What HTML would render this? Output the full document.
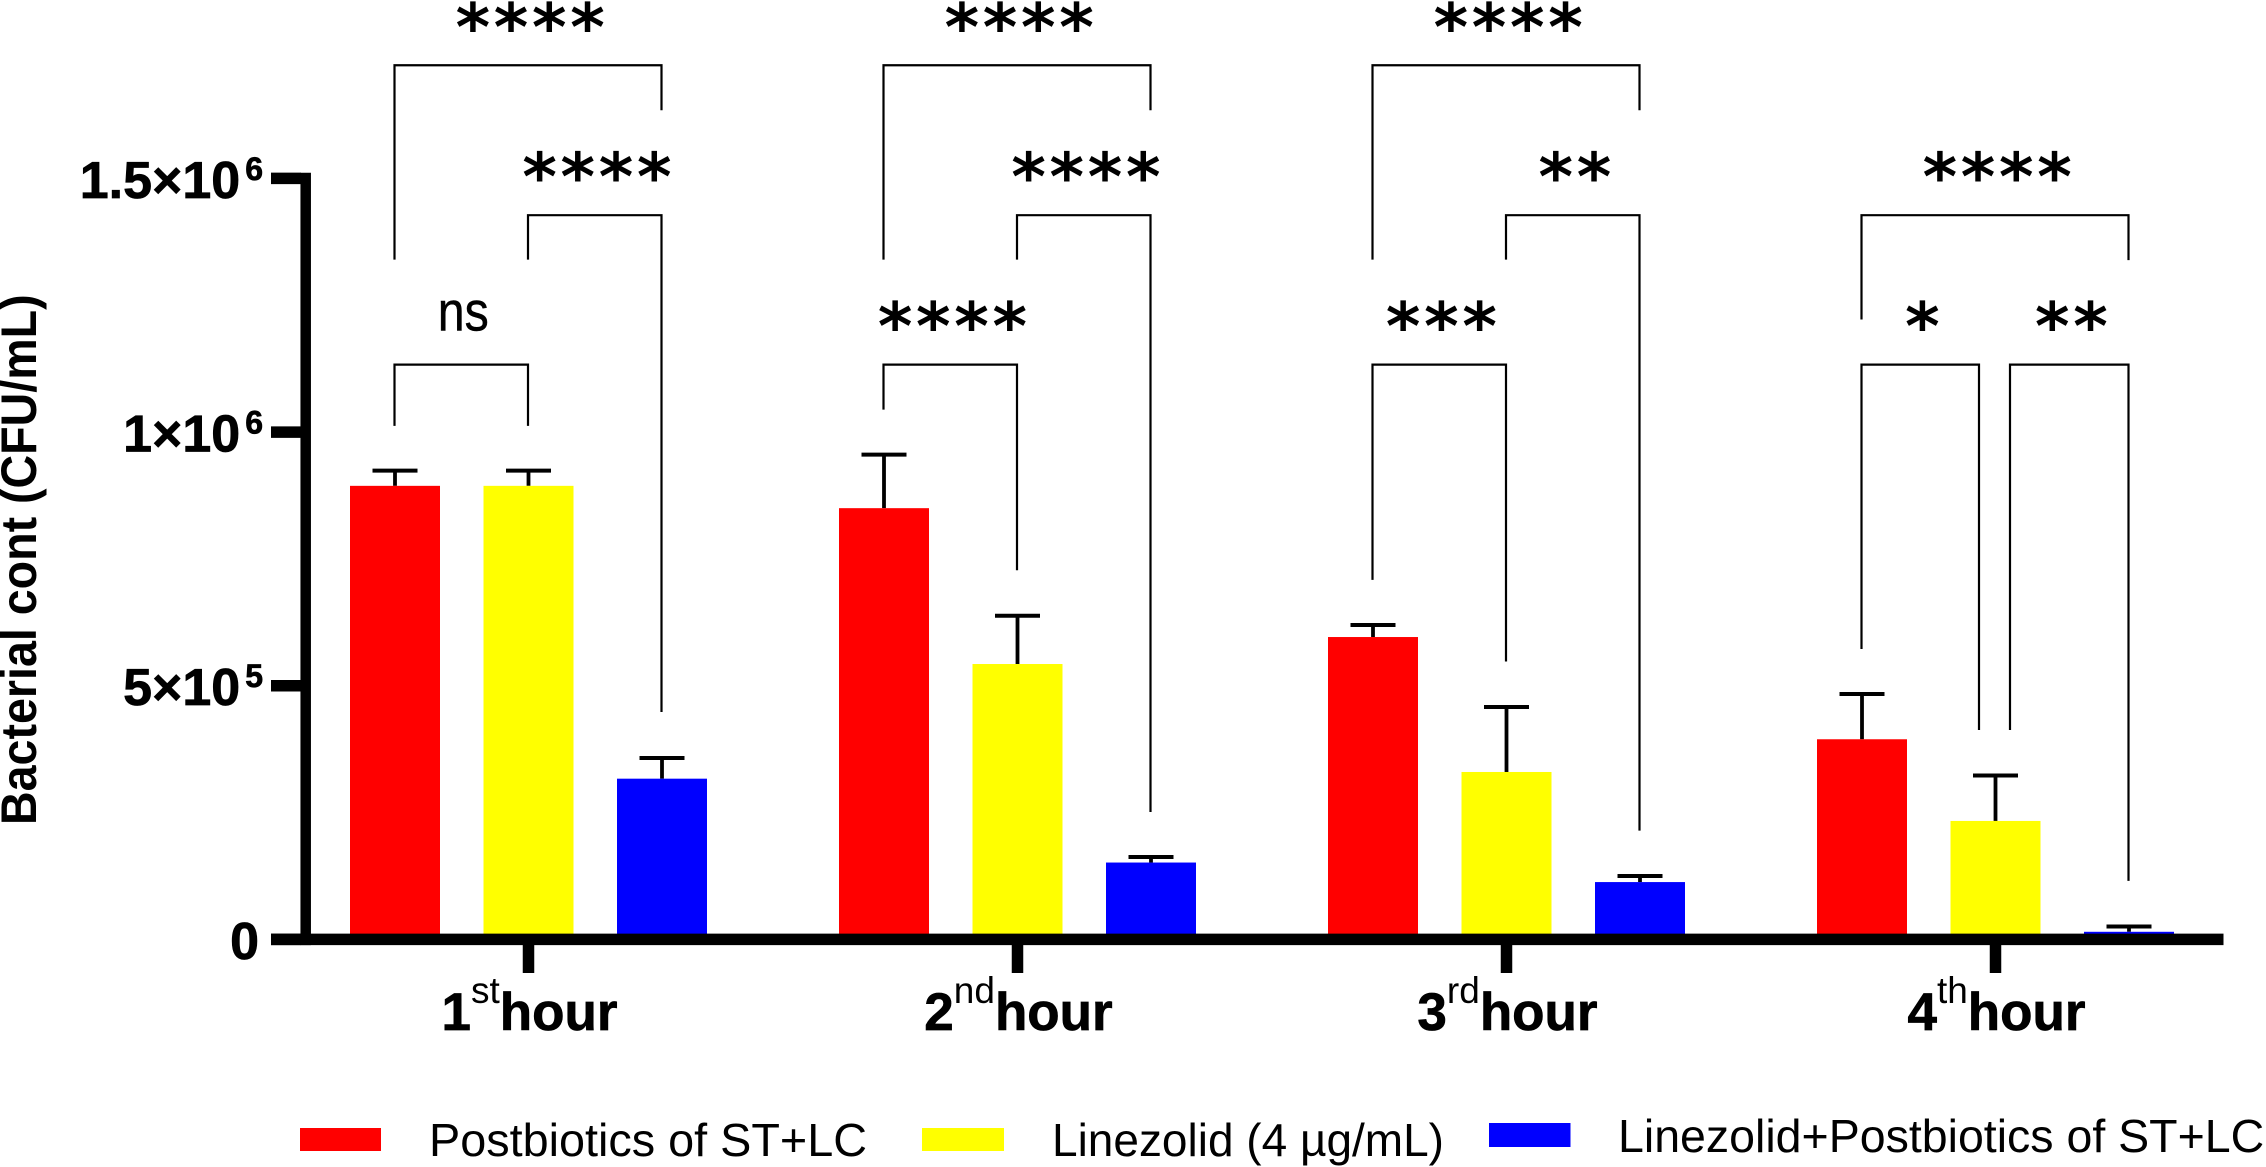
<!DOCTYPE html>
<html lang="en">
<head>
<meta charset="utf-8">
<title>Bacterial count by hour</title>
<style>
html,body{margin:0;padding:0;background:#fff;}
svg{display:block;}
text{font-family:"Liberation Sans",Arial,sans-serif;fill:#000;}
</style>
</head>
<body>
<svg id="chart" xmlns="http://www.w3.org/2000/svg" width="2266" height="1167" viewBox="0 0 2266 1167">
  <rect x="0" y="0" width="2266" height="1167" fill="#fff"/>
  <g id="brackets"></g>
  <g id="bars"></g>
  <g id="axes"></g>
  <text transform="translate(36,825) scale(1.08,1) rotate(-90)" font-size="46.6" font-weight="700">Bacterial cont (CFU/mL)</text>
  <g>
    <g>
      <rect x="300" y="1128" width="81" height="23" fill="#ff0000"/>
      <text x="429" y="1156" font-size="46.5" textLength="438" lengthAdjust="spacingAndGlyphs">Postbiotics of ST+LC</text>
    </g>
    <g>
      <rect x="922" y="1128" width="82" height="23" fill="#ffff00"/>
      <text x="1052" y="1156" font-size="46.5" textLength="392" lengthAdjust="spacingAndGlyphs">Linezolid (4 µg/mL)</text>
    </g>
    <g>
      <rect x="1489" y="1123" width="81.5" height="24" fill="#0000ff"/>
      <text x="1618" y="1152" font-size="46.5">Linezolid+Postbiotics of ST+LC</text>
    </g>
  </g>
</svg>
<script>
// ---- chart data (values in CFU/mL) ----
const categories = ['1', '2', '3', '4'];
const categorySuffixes = ['st', 'nd', 'rd', 'th'];
const seriesNames = ['postbiotics', 'linezolid', 'combination'];
const seriesColors = ['#ff0000', '#ffff00', '#0000ff'];
const postbioticsValues = [894000, 850000, 596000, 394500];
const linezolidValues = [894000, 542800, 330000, 233500];
const combinationValues = [316800, 151500, 113000, 15000];
const postbioticsUpper = [924000, 955600, 619700, 483700];
const linezolidUpper = [924000, 638000, 458000, 323000];
const combinationUpper = [357600, 162500, 125000, 25400];
const yTickValues = [0, 500000, 1000000, 1500000];
const yTickMantissas = ['0', '5×10', '1×10', '1.5×10'];
const yTickExponents = ['', '5', '6', '6'];
// comparisons: [group, fromBar, toBar, bracketLevel, fromEndLevel, toEndLevel, label]
const comparisons = [
  [0, 0, 2, 1723000, 1339800, 1634400, '****'],
  [0, 1, 2, 1427500, 1339800, 448200, '****'],
  [0, 0, 1, 1133000, 1012300, 1012300, 'ns'],
  [1, 0, 2, 1723000, 1339800, 1634400, '****'],
  [1, 1, 2, 1427500, 1339800, 251200, '****'],
  [1, 0, 1, 1133000, 1044300, 727600, '****'],
  [2, 0, 2, 1723000, 1339800, 1634400, '****'],
  [2, 1, 2, 1427500, 1339800, 214400, '**'],
  [2, 0, 1, 1133000, 708700, 547700, '***'],
  [3, 0, 2, 1427500, 1222000, 1338800, '****'],
  [3, 0, 1, 1133000, 572400, 412800, '*'],
  [3, 1, 2, 1133000, 412800, 115300, '**']
];

// ---- axis functions ----
const seriesValues = [postbioticsValues, linezolidValues, combinationValues];
const seriesUpper = [postbioticsUpper, linezolidUpper, combinationUpper];
const NS = 'http://www.w3.org/2000/svg';
const yZero = 939.4, yPxPerUnit = 761 / 1500000;
function yScale(v) { return yZero - v * yPxPerUnit; }
function groupX(g) { return 528.5 + g * 489; }
function barX(g, b) { return groupX(g) + (b - 1) * 133.5; }
function svgEl(tag, attrs, parent) {
  const el = document.createElementNS(NS, tag);
  for (const k in attrs) el.setAttribute(k, attrs[k]);
  parent.appendChild(el);
  return el;
}

// ---- bars & error bars ----
const barsLayer = document.getElementById('bars');
const barWidth = 90, capWidth = 45;
categories.forEach(function (cat, g) {
  seriesNames.forEach(function (name, b) {
    const cx = barX(g, b);
    const top = yScale(seriesValues[b][g]);
    const cap = yScale(seriesUpper[b][g]);
    const stem = svgEl('line', {x1: cx, x2: cx, y1: cap, y2: top, stroke: '#000', 'stroke-width': 3.8}, barsLayer);
    
    
    const capLine = svgEl('line', {x1: cx - capWidth / 2, x2: cx + capWidth / 2, y1: cap, y2: cap, stroke: '#000', 'stroke-width': 4}, barsLayer);
    
    
    const bar = svgEl('rect', {x: cx - barWidth / 2, y: top, width: barWidth, height: yZero - top, fill: seriesColors[b]}, barsLayer);
    
    
  });
});

// ---- axes ----
const axesLayer = document.getElementById('axes');
const yAxisLine = svgEl('line', {x1: 305.7, x2: 305.7, y1: yScale(1500000) - 5.7, y2: yZero + 5.7, stroke: '#000', 'stroke-width': 10.5}, axesLayer);


const xAxisLine = svgEl('line', {x1: 271, x2: 2223.5, y1: yZero, y2: yZero, stroke: '#000', 'stroke-width': 11.5}, axesLayer);


yTickValues.forEach(function (v, i) {
  const y = yScale(v);
  const tick = svgEl('line', {x1: 271, x2: 301, y1: y, y2: y, stroke: '#000', 'stroke-width': 11.5}, axesLayer);
  
  
  const label = svgEl('text', {x: yTickExponents[i] ? 263 : 259, y: y + 19.5, 'text-anchor': 'end', 'font-size': 52, 'font-weight': 700, stroke: '#000', 'stroke-width': 0.7}, axesLayer);
  
  
  const mantissa = svgEl('tspan', {}, label);
  mantissa.textContent = yTickMantissas[i];
  if (yTickExponents[i]) {
    const exponent = svgEl('tspan', {dx: 5, dy: -18, 'font-size': 32}, label);
    exponent.textContent = yTickExponents[i];
  }
});
categories.forEach(function (cat, g) {
  const x = groupX(g);
  const tick = svgEl('line', {x1: x, x2: x, y1: yZero + 5, y2: 973, stroke: '#000', 'stroke-width': 11.5}, axesLayer);
  
  
  const label = svgEl('text', {x: x + 1, y: 1030, 'text-anchor': 'middle', 'font-size': 53, 'font-weight': 700, stroke: '#000', 'stroke-width': 0.7}, axesLayer);
  
  
  const num = svgEl('tspan', {}, label);
  num.textContent = cat;
  const suffix = svgEl('tspan', {dy: -27, 'font-size': 37, 'font-weight': 400, 'stroke-width': 0}, label);
  suffix.textContent = categorySuffixes[g];
  const word = svgEl('tspan', {dy: 27, 'stroke-width': 0.7}, label);
  word.textContent = 'hour';
});

// ---- significance brackets ----
const bracketLayer = document.getElementById('brackets');
comparisons.forEach(function (c, i) {
  const g = c[0];
  const nudgeFrom = (g === 3 && c[1] === 1) ? 15 : 0;
  const nudgeTo = (g === 3 && c[2] === 1) ? -16 : 0;
  const x1 = barX(g, c[1]) + nudgeFrom - 0.5;
  const x2 = barX(g, c[2]) + nudgeTo - 0.5;
  const y = yScale(c[3]);
  const path = svgEl('path', {d: 'M' + x1 + ' ' + yScale(c[4]) + 'V' + y + 'H' + x2 + 'V' + yScale(c[5]), fill: 'none', stroke: '#000', 'stroke-width': 2.2}, bracketLayer);
  
  
  const isNs = c[6] === 'ns';
  let label;
  if (isNs) {
    label = svgEl('text', {x: (x1 + x2) / 2 + 2, y: y - 34, 'text-anchor': 'middle', 'font-size': 56, textLength: 51, lengthAdjust: 'spacingAndGlyphs', stroke: '#000', 'stroke-width': 0.5}, bracketLayer);
  } else {
    label = svgEl('text', {x: (x1 + x2) / 2 + 4, y: y - 15, 'text-anchor': 'middle', 'font-size': 66, 'font-weight': 700, 'letter-spacing': 3.7, style: 'font-family:"DejaVu Sans",sans-serif'}, bracketLayer);
  }
  
  
  label.textContent = c[6];
});
</script>
</body>
</html>
